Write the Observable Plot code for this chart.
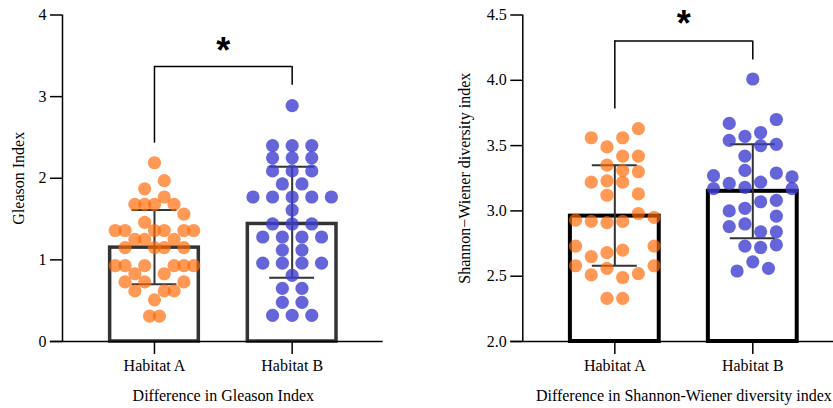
<!DOCTYPE html>
<html>
<head>
<meta charset="utf-8">
<script src="https://cdn.jsdelivr.net/npm/d3@7"></script>
<script src="https://cdn.jsdelivr.net/npm/@observablehq/plot@0.6"></script>
<style>
  html, body { margin: 0; padding: 0; background: #fff; }
  #wrap { display: flex; flex-direction: row; width: 833px; height: 408px; }
</style>
</head>
<body>
<div id="wrap"></div>
<script>
// ---------- data ----------
const categories = ["Habitat A", "Habitat B"];

// Gleason index: [column in swarm, value]
const gleasonA = [[0,2.19],[1,1.97],[-1,1.87],[1,1.77],[-2,1.68],[-1,1.68],[0,1.68],[2,1.68],[3,1.56],[-1,1.46],
  [-4,1.36],[-3,1.36],[0,1.36],[1,1.36],[3,1.36],[4,1.36],[-2,1.25],[-1,1.25],[2,1.25],[-3,1.15],[0,1.15],[1,1.15],[3,1.15],
  [-4,0.93],[-3,0.93],[-1,0.93],[2,0.93],[3,0.93],[4,0.93],[-2,0.83],[1,0.83],[-3,0.73],[-1,0.73],[3,0.73],
  [-2,0.62],[1,0.62],[2,0.62],[0,0.51],[-0.5,0.31],[0.5,0.31]];
const gleasonB = [[0,2.89],[-2,2.40],[0,2.40],[2,2.40],[-2,2.25],[0,2.25],[2,2.25],[-2,2.09],[0,2.09],[2,2.09],
  [-1,1.93],[1,1.93],[-4,1.77],[-2,1.77],[0,1.77],[2,1.77],[4,1.77],[0,1.61],[-2,1.44],[0,1.44],[2,1.44],
  [-3,1.28],[-1,1.28],[1,1.28],[3,1.28],[-1,1.12],[1,1.12],[-3,0.96],[-1,0.96],[1,0.96],[3,0.96],[0,0.81],
  [-1,0.65],[1,0.65],[-1,0.48],[1,0.48],[-2,0.32],[0,0.32],[2,0.32]];
const gleasonMean = [1.15, 1.44];
const gleasonLow = [0.70, 0.78];
const gleasonHigh = [1.61, 2.14];
const gleasonTicks = [0, 1, 2, 3, 4];
const gleasonBracket = {top: 3.37, legs: [2.43, 3.14], label: "*"};

// Shannon-Wiener index: [column in swarm, value]
const shannonA = [[3,3.63],[-3,3.56],[1,3.56],[-1,3.49],[1,3.42],[3,3.42],[-1,3.35],[1,3.31],[3,3.30],[-3,3.22],
  [-1,3.23],[1,3.22],[-1,3.12],[3,3.13],[3,2.98],[-5,2.93],[-3,2.92],[-1,2.91],[1,2.92],[5,2.95],
  [-5,2.73],[5,2.73],[-1,2.68],[1,2.70],[-3,2.65],[-5,2.58],[5,2.58],[-1,2.56],[-3,2.51],[1,2.49],[3,2.52],
  [-1,2.33],[1,2.33]];
const shannonB = [[0,4.01],[-3,3.67],[3,3.70],[1,3.60],[-1,3.57],[-3,3.54],[3,3.51],[1,3.50],[-1,3.42],[-1,3.31],
  [-5,3.27],[3,3.29],[5,3.26],[-3,3.21],[1,3.22],[-1,3.18],[-5,3.17],[5,3.17],[1,3.07],[3,3.08],
  [-1,3.02],[-3,3.00],[3,2.96],[-3,2.88],[-1,2.90],[1,2.84],[3,2.84],[-1,2.73],[1,2.72],[3,2.74],
  [0,2.61],[-2,2.54],[2,2.56]];
const shannonMean = [2.96, 3.15];
const shannonLow = [2.58, 2.79];
const shannonHigh = [3.35, 3.51];
const shannonTicks = [2.0, 2.5, 3.0, 3.5, 4.0, 4.5];
const shannonBracket = {top: 4.30, legs: [3.78, 4.155], label: "*"};

const colors = ["#ff6905", "#3f3fcf"];

// ---------- drawing ----------
const FONT = "'Liberation Serif', 'Times New Roman', serif";
function panel(cfg) {
  const {width, marginLeft, xDomain, axisEnd, overhang, step, yDomain, ticks, tickFormat,
         ptsA, ptsB, mean, low, high, bracket, yLabel, xLabel, yLabelOffset,
         barColor, barWidth, starDy, titleSize} = cfg;
  const pts = [
    ...ptsA.map(([c, v]) => ({g: 0, c, v})),
    ...ptsB.map(([c, v]) => ({g: 1, c, v}))
  ];
  const groups = categories.map((name, i) => ({i, name, mean: mean[i], low: low[i], high: high[i]}));
  const half = 0.322, cap = 0.163;
  const legs = bracket.legs.map((b, i) => ({x: i + 1, y1: b, y2: bracket.top}));
  return Plot.plot({
    width, height: 408,
    marginTop: 14.5, marginBottom: 67, marginLeft, marginRight: 0,
    x: {type: "linear", domain: xDomain, axis: null},
    y: {domain: yDomain, axis: null},
    style: {fontFamily: FONT, fontSize: "16px", color: "#000", background: "#fff"},
    marks: [
      Plot.rect(groups, {x1: d => d.i + 1 - half, x2: d => d.i + 1 + half, y1: yDomain[0], y2: "mean",
        fill: "#fff", stroke: barColor, strokeWidth: barWidth}),
      Plot.ruleX(groups, {x: d => d.i + 1, y1: "low", y2: "high", stroke: "#333", strokeWidth: 2}),
      Plot.ruleY(groups, {x1: d => d.i + 1 - cap, x2: d => d.i + 1 + cap, y: "low", stroke: "#333", strokeWidth: 2}),
      Plot.ruleY(groups, {x1: d => d.i + 1 - cap, x2: d => d.i + 1 + cap, y: "high", stroke: "#333", strokeWidth: 2}),
      Plot.dot(pts, {x: d => d.g + 1 + d.c * step, y: "v", r: 6.6,
        fill: d => colors[d.g], fillOpacity: d => d.g === 0 ? 0.68 : 0.8, stroke: "none"}),
      // significance bracket
      Plot.ruleY([bracket.top], {x1: 1, x2: 2, stroke: "#000", strokeWidth: 1.5}),
      Plot.ruleX(legs, {x: "x", y1: "y1", y2: "y2", stroke: "#000", strokeWidth: 1.5}),
      Plot.text([bracket.label], {x: 1.5, y: bracket.top, text: d => d, dy: starDy,
        fontSize: 36, fontWeight: "bold", fontFamily: "'Liberation Sans', Arial, sans-serif", fill: "#000"}),
      // axes
      Plot.ruleY([yDomain[0]], {x1: xDomain[0] - overhang, x2: axisEnd, stroke: "#000", strokeWidth: 1.5}),
      Plot.ruleX([xDomain[0]], {y1: yDomain[0], y2: yDomain[1], stroke: "#000", strokeWidth: 1.5}),
      Plot.axisY({ticks, tickFormat, tickSize: 12, tickPadding: 4, strokeWidth: 1.5, fontSize: 16,
        label: yLabel, labelAnchor: "center", labelOffset: yLabelOffset, labelArrow: "none"}),
      Plot.axisX({ticks: [1, 2], tickFormat: d => categories[d - 1], tickSize: 13, tickPadding: 5, strokeWidth: 1.5,
        fontSize: 16, label: null}),
      // x-axis title, centred between the two categories
      Plot.text([xLabel], {x: 1.5, frameAnchor: "bottom", dy: 59, text: d => d,
        fontSize: titleSize, fill: "#000"})
    ]
  });
}

const wrap = document.getElementById("wrap");
wrap.appendChild(panel({
  width: 416, marginLeft: 62, xDomain: [0.332, 2.903], axisEnd: 2.661, overhang: 0.089, step: 0.0712,
  yDomain: [0, 4], ticks: gleasonTicks, tickFormat: d3.format("d"),
  ptsA: gleasonA, ptsB: gleasonB, mean: gleasonMean, low: gleasonLow, high: gleasonHigh,
  bracket: gleasonBracket, yLabel: "Gleason Index", xLabel: "Difference in Gleason Index",
  yLabelOffset: 50, barColor: "#333", barWidth: 3.5, starDy: -15, titleSize: 16
}));
wrap.appendChild(panel({
  width: 417, marginLeft: 106.3, xDomain: [0.333, 2.585], axisEnd: 2.585, overhang: 0.087, step: 0.0569,
  yDomain: [2, 4.5], ticks: shannonTicks, tickFormat: d3.format(".1f"),
  ptsA: shannonA, ptsB: shannonB, mean: shannonMean, low: shannonLow, high: shannonHigh,
  bracket: shannonBracket, yLabel: "Shannon\u2212Wiener diversity index", xLabel: "Difference in Shannon-Wiener diversity index",
  yLabelOffset: 64, barColor: "#000", barWidth: 4, starDy: -17, titleSize: 16
}));
</script>
</body>
</html>
